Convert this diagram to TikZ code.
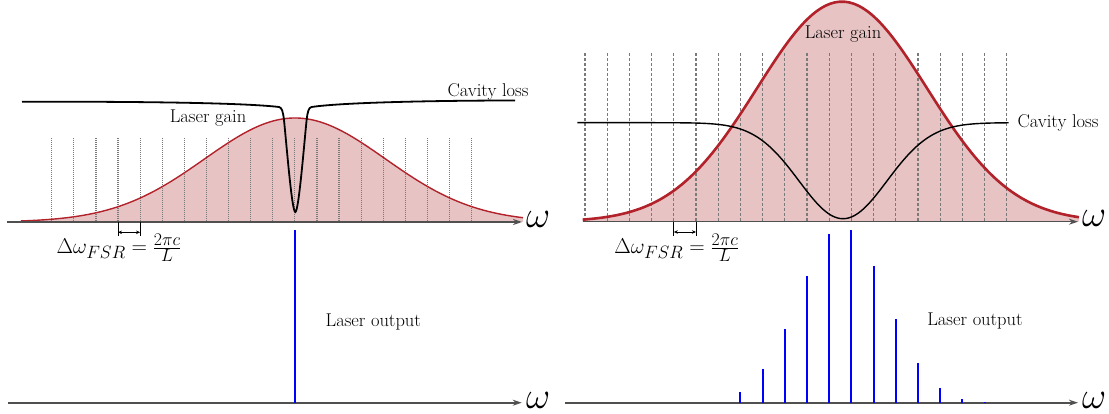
\documentclass[tikz,border=0pt]{standalone}
\usepackage{graphicx}
\usetikzlibrary{arrows.meta}
\definecolor{gainfill}{HTML}{E8C3C4}
\definecolor{gainred}{HTML}{B2222A}
\definecolor{axisgray}{HTML}{505050}
\definecolor{modegray}{HTML}{7A7A7A}
\newcommand{\omegasym}{\scalebox{1.5}{$\omega$}}
\newcommand{\fsrtext}{\scalebox{0.86}{$\Delta\omega_{FSR} = \frac{2\pi c}{L}$}}
\begin{document}
\begin{tikzpicture}[x=1pt,y=-1pt,
  axisline/.style={draw=axisgray,line width=1.6pt,-{Stealth[length=9pt,width=6pt]}},
  lbl/.style={font=\fontsize{18.5}{22}\selectfont,inner sep=0pt},
  omegalbl/.style={font=\fontsize{24.88}{30}\selectfont,inner sep=0pt,anchor=west},
  fsrlbl/.style={font=\fontsize{24.88}{30}\selectfont,inner sep=0pt},
  dotmode/.style={draw=modegray,line width=1.2pt,dash pattern=on 1pt off 1pt},
  dashmode/.style={draw=modegray,line width=1.3pt,dash pattern=on 3pt off 2pt},
  outline/.style={draw=blue,line width=2pt},
  fsrtick/.style={draw=black,line width=0.9pt},
  fsrarrow/.style={draw=black,line width=0.9pt,{Stealth[length=4pt,width=3.5pt]}-{Stealth[length=4pt,width=3.5pt]}},
  lossline/.style={draw=black,line width=1.8pt},
]
\useasboundingbox (0,0) rectangle (1109,414);

% ---------------- left panel, top ----------------
\fill[gainfill] plot[domain=21:523,samples=200] (\x,{222-104*exp(-0.5*((\x-295)/90.4)^2)}) -- (523,222) -- (21,222) -- cycle;
\foreach \k in {0,...,19} \draw[dotmode] ({51.7+22.1*\k},138) -- ({51.7+22.1*\k},222);
\draw[gainred,line width=1.4pt] plot[domain=21:523,samples=200] (\x,{222-104*exp(-0.5*((\x-295)/90.4)^2)});
\draw[lossline] (22,101.7) .. controls (150,101.5) and (245,103) .. (279,107)
  .. controls (282,107.5) and (283,112) .. (284,120)
  .. controls (287,150) and (292,212) .. (295.3,212)
  .. controls (298.6,212) and (303.6,150) .. (306.6,120)
  .. controls (307.6,112) and (308.6,107.5) .. (311.6,107)
  .. controls (345,102) and (450,100.5) .. (515,100.5);
\draw[axisline] (7.3,222) -- (522,222);
\node[omegalbl] (wL1) at (526,219) {\omegasym};
\node[lbl] (gainL) at (208,118) {Laser gain};
\node[lbl] (lossL) at (488,92) {Cavity loss};
\draw[fsrtick] (118,222) -- (118,236);
\draw[fsrtick] (140.1,222) -- (140.1,236);
\draw[fsrarrow] (118,232.3) -- (140.1,232.3);
\node[fsrlbl] (fsrL) at (119,247.7) {\fsrtext};

% ---------------- left panel, bottom ----------------
\draw[axisline] (8,402.7) -- (521.7,402.7);
\node[omegalbl] (wL2) at (526,400) {\omegasym};
\draw[outline] (295,402.7) -- (295,230);
\node[lbl] (outL) at (373.3,321.7) {Laser output};

% ---------------- right panel, top ----------------
\fill[gainfill] plot[domain=582.7:1079,samples=200] (\x,{221.7-220*exp(-0.5*((\x-842)/85)^2)}) -- (1079,221.7) -- (582.7,221.7) -- cycle;
\foreach \k in {0,...,19} \draw[dashmode] ({585+22.2*\k},53.3) -- ({585+22.2*\k},221.7);
\draw[gainred,line width=2.6pt] plot[domain=582.7:1079,samples=200] (\x,{221.7-220*exp(-0.5*((\x-842)/85)^2)});
\draw[black,line width=1.4pt] plot[domain=577.3:1008.6,samples=200] (\x,{122.7+96*exp(-0.5*((\x-843)/44)^2)});
\draw[axisline] (582.7,221.7) -- (1078,221.7);
\node[omegalbl] (wR1) at (1082,218.5) {\omegasym};
\node[lbl] (gainR) at (843,34) {Laser gain};
\node[lbl] (lossR) at (1058,122.7) {Cavity loss};
\draw[fsrtick] (673.8,221.7) -- (673.8,236);
\draw[fsrtick] (696,221.7) -- (696,236);
\draw[fsrarrow] (673.8,232) -- (696,232);
\node[fsrlbl] (fsrR) at (676.7,247.7) {\fsrtext};

% ---------------- right panel, bottom ----------------
\draw[axisline] (565,402.7) -- (1078,402.7);
\node[omegalbl] (wR2) at (1082,400) {\omegasym};
\foreach \k/\h in {7/11,8/33.4,9/74,10/126.7,11/168.4,12/172.7,13/137,14/84,15/39.7,16/14.4,17/3.4,18/1}
  \draw[outline] ({585+22.2*\k},402.7) -- ({585+22.2*\k},{402.7-\h});
\node[lbl] (outR) at (975,321) {Laser output};
\end{tikzpicture}
\end{document}
